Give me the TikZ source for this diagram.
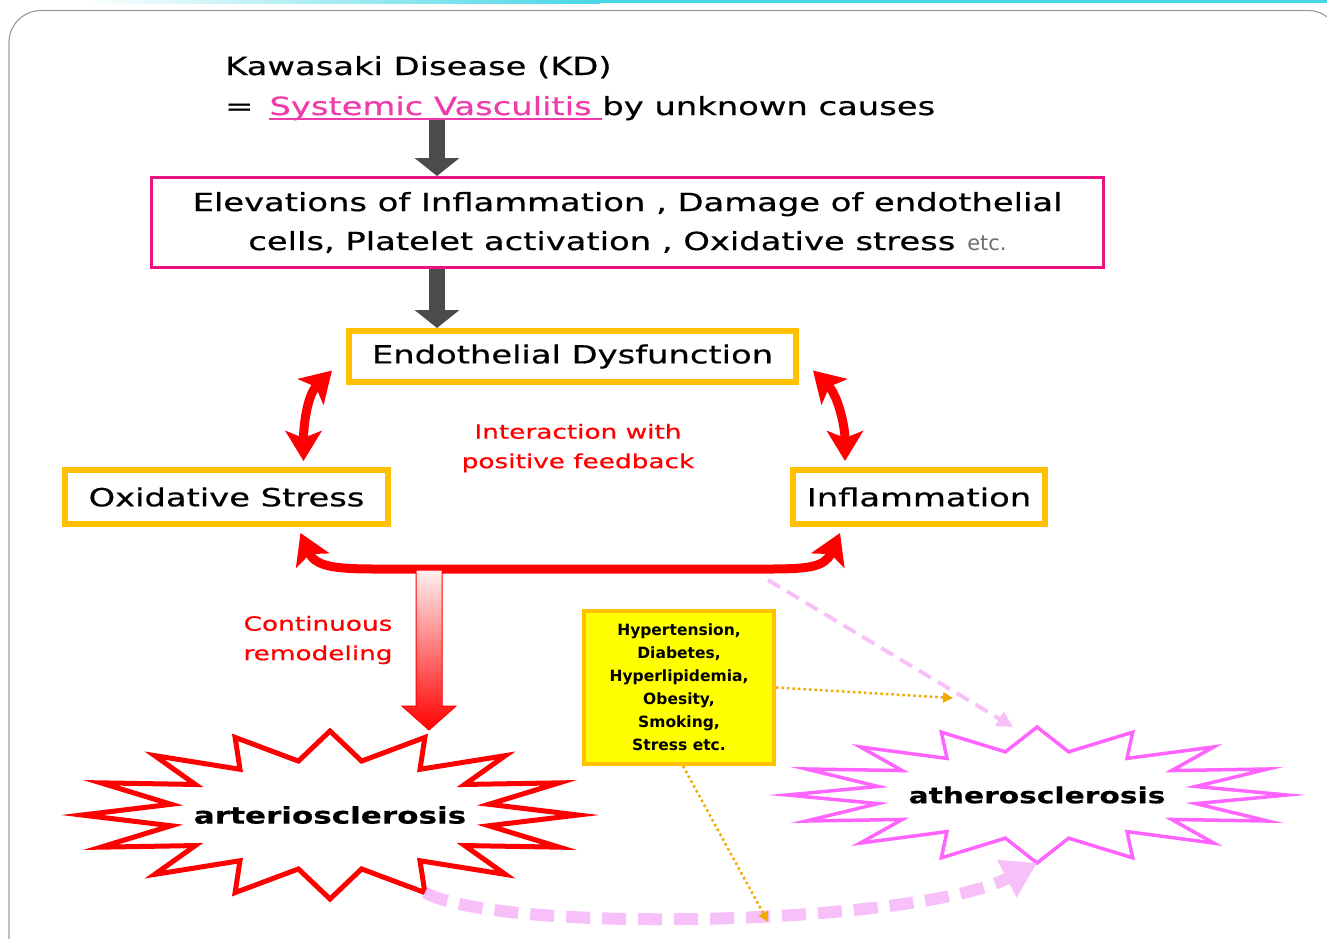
\documentclass[tikz,border=0pt]{standalone}
\usepackage{fontspec}
\newfontfamily\kdfont[FakeStretch=1.35,FakeBold=0.6]{DejaVu Sans}
\newfontfamily\kdtight{DejaVu Sans}
\usetikzlibrary{arrows.meta,calc,positioning}

\definecolor{kdred}{RGB}{255,0,0}
\definecolor{kdorange}{RGB}{255,192,0}
\definecolor{kdmagenta}{RGB}{232,20,128}
\definecolor{kdpink}{RGB}{240,60,170}
\definecolor{kdviolet}{RGB}{255,100,255}
\definecolor{kdlilac}{RGB}{248,192,248}
\definecolor{kdgold}{RGB}{240,170,0}
\definecolor{kdyellow}{RGB}{255,255,0}
\definecolor{kdgray}{RGB}{75,75,75}
\definecolor{kdetc}{RGB}{110,110,110}
\definecolor{kdcyan}{RGB}{70,215,230}
\definecolor{kdframe}{RGB}{160,160,160}

\newcommand{\kdul}[1]{\sbox0{#1}\rlap{\textcolor{kdpink}{\rule[-5pt]{\wd0}{1.6pt}}}\usebox0}

\tikzset{
  plaintext/.style={inner sep=0pt, font=\kdfont\fontsize{25}{39}\selectfont},
  orangebox/.style={draw=kdorange, line width=6pt, fill=white, inner sep=0pt,
    font=\kdfont\fontsize{25}{30}\selectfont},
  pinkbox/.style={draw=kdmagenta, line width=3pt, align=center, inner sep=0pt,
    font=\kdfont\fontsize{25}{39}\selectfont},
  riskbox/.style={draw=kdorange, line width=4pt, fill=kdyellow, align=center, inner sep=0pt,
    font=\kdtight\bfseries\fontsize{15.5}{23}\selectfont},
  redlabel/.style={text=kdred, align=center, inner sep=0pt,
    font=\kdfont\fontsize{19.5}{29.5}\selectfont},
  burstlabel/.style={inner sep=0pt, font=\kdfont\bfseries\fontsize{23}{28}\selectfont},
  grayarrow/.style={draw=kdgray, line width=16pt, -{Triangle[length=18pt,width=44pt]}},
  redarrow/.style={draw=kdred, line width=9pt,
    {Stealth[length=30pt,width=36pt,inset=7pt]}-{Stealth[length=30pt,width=36pt,inset=7pt]}},
  thinlilac/.style={draw=kdlilac, line width=4pt, dash pattern=on 14pt off 8pt,
    -{Triangle[length=16pt,width=16pt]}},
  thicklilac/.style={draw=kdlilac, line width=12pt, dash pattern=on 24pt off 12pt,
    -{Triangle[length=34pt,width=40pt]}},
  golddots/.style={draw=kdgold, line width=2.5pt, dash pattern=on 2.5pt off 3pt,
    -{Triangle[length=10pt,width=10pt]}},
  burst/.style={line width=5pt, line join=miter, miter limit=12},
}

\begin{document}
\begin{tikzpicture}[x=1pt,y=-1pt]
  \useasboundingbox (0,0) rectangle (1327,938);
  % frame
  \shade[left color=white, right color=kdcyan] (80,0) rectangle (600,3);
  \fill[kdcyan] (600,0) rectangle (1327,3);
  \draw[kdframe, line width=1.2pt, rounded corners=32pt] (9,1000) -- (9,10.5) -- (1340,10.5) -- (1340,1000);

  % title
  \node[plaintext, anchor=base west] (kd) at (225,75) {Kawasaki Disease (KD)};
  \node[plaintext, anchor=base west] (cause) at (225,115)
    {=\hspace{16pt}\kdul{\textcolor{kdpink}{Systemic Vasculitis\ }}by unknown causes};

  % boxes
  \node[pinkbox, minimum width=952pt, minimum height=90pt] (elev) at (627.5,222.5)
    {Elevations of Inflammation , Damage of endothelial\\
     cells, Platelet activation , Oxidative stress\hspace{12pt}{\color{kdetc}\kdtight\fontsize{21}{39}\selectfont etc.}};
  \node[orangebox, minimum width=447pt, minimum height=51pt] (ed) at (572.5,356.5) {Endothelial Dysfunction};
  \node[orangebox, minimum width=323pt, minimum height=54pt] (os) at (226.5,497) {Oxidative Stress};
  \node[orangebox, minimum width=252pt, minimum height=54pt] (infl) at (919,497) {Inflammation};
  \node[redlabel] (fb) at (578,448) {Interaction with\\positive feedback};
  \node[redlabel] (remodel) at (318,640) {Continuous\\remodeling};
  \node[riskbox, minimum width=190pt, minimum height=153pt] (risk) at (679,687.5)
    {Hypertension,\\Diabetes,\\Hyperlipidemia,\\Obesity,\\Smoking,\\Stress etc.};

  % bursts
  \node[burstlabel] (arterio) at (330,815) {arteriosclerosis};
  \node[burstlabel, font=\kdfont\bfseries\fontsize{22}{28}\selectfont] (athero) at (1037,795) {atherosclerosis};
  \draw[burst, draw=kdred] ($(arterio.center)+(0:248 and 84)$)
    \foreach \a in {0,22.5,...,337.5} {-- ($(arterio.center)+(\a:248 and 84)$) -- ($(arterio.center)+(\a+11.25:162 and 55)$)} -- cycle;
  \draw[burst, draw=kdviolet, line width=3.5pt] ($(athero.center)+(0:250 and 68)$)
    \foreach \a in {0,22.5,...,337.5} {-- ($(athero.center)+(\a:250 and 68)$) -- ($(athero.center)+(\a+11.25:162 and 44)$)} -- cycle;

  % arrows
  \coordinate (stem) at (437,0);
  \draw[grayarrow] (stem |- cause.south) -- (stem |- elev.north);
  \draw[grayarrow] (stem |- elev.south) -- (stem |- ed.north);
  \draw[redarrow] ($(ed.west)+(-14,14)$) .. controls +(-25,25) and +(0,-35) .. ($(os.north)+(77,-6)$);
  \draw[redarrow] ($(ed.east)+(14,14)$) .. controls +(25,25) and +(0,-35) .. ($(infl.north)+(-74,-6)$);
  \draw[redarrow] ($(os.south)+(74,6)$) .. controls +(15,34) and +(-40,0) .. ($(os.south)+(150,42)$)
    -- ($(infl.south)+(-150,42)$) .. controls +(40,0) and +(-15,34) .. ($(infl.south)+(-79,6)$);
  \coordinate (fork) at (429,564);
  \begin{scope}[shift={(fork)}]
    \shadedraw[draw=kdred, line width=1pt, top color=kdred!6, bottom color=kdred]
      (-13,6) -- (13,6) -- (13,142) -- (27,142) -- (0,166) -- (-27,142) -- (-13,142) -- cycle;
  \end{scope}
  \coordinate (lilacstart) at (768,580);
  \draw[thinlilac] (lilacstart) -- ($(athero.center)+(-24,-68)$);
  \draw[thicklilac] ($(arterio.center)+(67.5:248 and 84)$) .. controls +(80,42) and +(-120,62) .. ($(athero.center)+(90:250 and 68)$);
  \coordinate (lowgap) at (768,922);
  \draw[golddots] (risk.east) -- ($(athero.center)+(-84,-97)$);
  \draw[golddots] ($(risk.south)+(4,0)$) -- (lowgap);
\end{tikzpicture}
\end{document}
